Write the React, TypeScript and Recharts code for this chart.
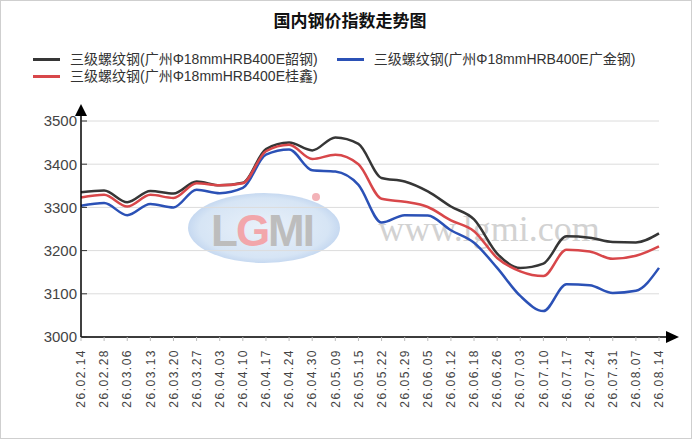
import { CartesianGrid, Legend, Line, LineChart, XAxis, YAxis } from "recharts";

const DATES = [
  "26.02.14", "26.02.28", "26.03.06", "26.03.13", "26.03.20", "26.03.27", "26.04.03",
  "26.04.10", "26.04.17", "26.04.24", "26.04.30", "26.05.09", "26.05.15", "26.05.22",
  "26.05.29", "26.06.05", "26.06.12", "26.06.18", "26.06.26", "26.07.03", "26.07.10",
  "26.07.17", "26.07.24", "26.07.31", "26.08.07", "26.08.14",
];

// 韶钢
const SHAOGANG = [
  3335, 3339, 3312, 3338, 3332, 3360, 3351, 3357, 3435, 3450, 3432, 3462, 3447,
  3368, 3360, 3337, 3302, 3272, 3193, 3160, 3170, 3233, 3230, 3220, 3219, 3240,
];
// 广金钢
const GUANGJIN = [
  3304, 3310, 3282, 3308, 3300, 3341, 3333, 3345, 3422, 3434, 3386, 3383, 3352,
  3265, 3282, 3281, 3247, 3218, 3160, 3095, 3060, 3122, 3120, 3102, 3107, 3160,
];
// 桂鑫
const GUIXIN = [
  3323, 3329, 3302, 3329, 3322, 3356, 3351, 3356, 3430, 3445, 3412, 3422, 3400,
  3320, 3313, 3301, 3270, 3245, 3183, 3152, 3141, 3202, 3198, 3181, 3188, 3210,
];

const Y_TICKS = [3000, 3100, 3200, 3300, 3400, 3500];

const NAME_SG = "三级螺纹钢(广州Φ18mmHRB400E韶钢)";
const NAME_GJ = "三级螺纹钢(广州Φ18mmHRB400E广金钢)";
const NAME_GX = "三级螺纹钢(广州Φ18mmHRB400E桂鑫)";
const LEGEND_ORDER = ["sg", "gj", "gx"];

const data = DATES.map((d, i) => ({
  date: d,
  sg: SHAOGANG[i],
  gj: GUANGJIN[i],
  gx: GUIXIN[i],
}));

const FONT = '"Liberation Sans", Arial, "Noto Sans CJK SC", sans-serif';

function XTick({ x, y, payload }: any) {
  return (
    <g transform={`translate(${x},${y})`}>
      <text
        transform="rotate(-90)"
        textAnchor="end"
        dy="0.35em"
        fontSize={12}
        letterSpacing={1.5}
        fill="#444"
        fontFamily={FONT}
      >
        {payload.value}
      </text>
    </g>
  );
}

function YTick({ x, y, payload }: any) {
  return (
    <g>
      <text x={x} y={y} dy="0.36em" textAnchor="end" fontSize={15} fill="#444" fontFamily={FONT}>
        {payload.value}
      </text>
      <line x1={x + 4} x2={x + 10} y1={y} y2={y} stroke="#333" />
    </g>
  );
}

function LegendBox({ payload }: any) {
  const items = [...(payload || [])].sort(
    (a: any, b: any) => LEGEND_ORDER.indexOf(a.dataKey) - LEGEND_ORDER.indexOf(b.dataKey),
  );
  return (
    <div
      style={{
        display: "flex",
        flexWrap: "wrap",
        columnGap: 19,
        width: 640,
        paddingLeft: 33,
        fontFamily: FONT,
        fontSize: 14,
        color: "#333",
        lineHeight: "17px",
      }}
    >
      {items.map((p: any) => (
        <div key={p.value} style={{ display: "flex", alignItems: "center" }}>
          <span style={{ width: 27, height: 3, background: p.color, marginRight: 10 }} />
          <span style={{ whiteSpace: "nowrap" }}>{p.value}</span>
        </div>
      ))}
    </div>
  );
}

function Watermark() {
  return (
    <svg width={692} height={439} style={{ position: "absolute", left: 0, top: 0 }}>
      <defs>
        <radialGradient id="wmFill" cx="50%" cy="50%" r="50%">
          <stop offset="0%" stopColor="#e6eff9" />
          <stop offset="85%" stopColor="#cfe0f3" />
          <stop offset="100%" stopColor="#bcd2ee" />
        </radialGradient>
      </defs>
      <ellipse cx={264} cy={228} rx={76} ry={35} fill="url(#wmFill)" opacity={0.85} />
      <text
        x={262}
        y={246}
        textAnchor="middle"
        fontSize={44}
        fontWeight="bold"
        fontFamily='"Liberation Sans", sans-serif'
        letterSpacing={-2}
        fill="#bdbdbd"
      >
        L<tspan fill="#f2a6ab">G</tspan>MI
      </text>
      <circle cx={316} cy={197} r={4} fill="#f3b3b8" />
      <text
        x={489}
        y={241}
        textAnchor="middle"
        fontSize={36}
        fontFamily='"Liberation Serif", serif'
        fill="#d2d2d2"
      >
        www.lgmi.com
      </text>
    </svg>
  );
}

export default function App() {
  return (
    <div
      style={{
        position: "absolute",
        left: 0,
        top: 0,
        width: 692,
        height: 439,
        background: "#fff",
        overflow: "hidden",
      }}
    >
      <Watermark />
      <div
        style={{
          position: "absolute",
          top: 12,
          left: 4,
          width: 692,
          textAlign: "center",
          fontFamily: FONT,
          fontSize: 17,
          fontWeight: "bold",
          lineHeight: "20px",
          color: "#111",
        }}
      >
        国内钢价指数走势图
      </div>
      <div style={{ position: "absolute", left: 0, top: 0 }}>
        <LineChart
          width={692}
          height={439}
          data={data}
          margin={{ top: 121, right: 33, bottom: 12, left: 21 }}
        >
          <defs>
            <marker
              id="arrowX"
              markerUnits="userSpaceOnUse"
              markerWidth={22}
              markerHeight={14}
              refX={0}
              refY={7}
              orient="auto"
            >
              <path d="M0,7 H8" stroke="#000" strokeWidth={1.5} />
              <path d="M7,1 L20,7 L7,13 Z" fill="#000" />
            </marker>
            <marker
              id="arrowY"
              markerUnits="userSpaceOnUse"
              markerWidth={20}
              markerHeight={14}
              refX={0}
              refY={7}
              orient="auto-start-reverse"
            >
              <path d="M0,7 H6" stroke="#000" strokeWidth={1.5} />
              <path d="M5,1 L17,7 L5,13 Z" fill="#000" />
            </marker>
          </defs>
          <CartesianGrid vertical={false} stroke="#dcdcdc" />
          <XAxis
            dataKey="date"
            interval={0}
            height={90}
            tickSize={4}
            tickMargin={8}
            tickLine={{ stroke: "#bbb" }}
            axisLine={{ stroke: "#000", strokeWidth: 1.5, markerEnd: "url(#arrowX)" }}
            tick={<XTick />}
          />
          <YAxis
            domain={[3000, 3500]}
            ticks={Y_TICKS}
            interval={0}
            width={60}
            tickSize={0}
            tickMargin={4}
            tickLine={false}
            axisLine={{ stroke: "#000", strokeWidth: 1.5, markerStart: "url(#arrowY)" }}
            tick={<YTick />}
          />
          <Legend
            layout="horizontal"
            verticalAlign="middle"
            align="center"
            content={<LegendBox />}
            wrapperStyle={{ top: 51, left: 0, width: 692 }}
          />
          <Line
            type="monotone"
            dataKey="sg"
            name={NAME_SG}
            stroke="#363636"
            strokeWidth={2.5}
            dot={false}
            isAnimationActive={false}
          />
          <Line
            type="monotone"
            dataKey="gj"
            name={NAME_GJ}
            stroke="#2b51b6"
            strokeWidth={2.5}
            dot={false}
            isAnimationActive={false}
          />
          <Line
            type="monotone"
            dataKey="gx"
            name={NAME_GX}
            stroke="#d8474a"
            strokeWidth={2.5}
            dot={false}
            isAnimationActive={false}
          />
        </LineChart>
      </div>
      <div
        style={{
          position: "absolute",
          inset: 0,
          border: "1px solid #cfcfcf",
          boxSizing: "border-box",
          pointerEvents: "none",
        }}
      />
    </div>
  );
}
